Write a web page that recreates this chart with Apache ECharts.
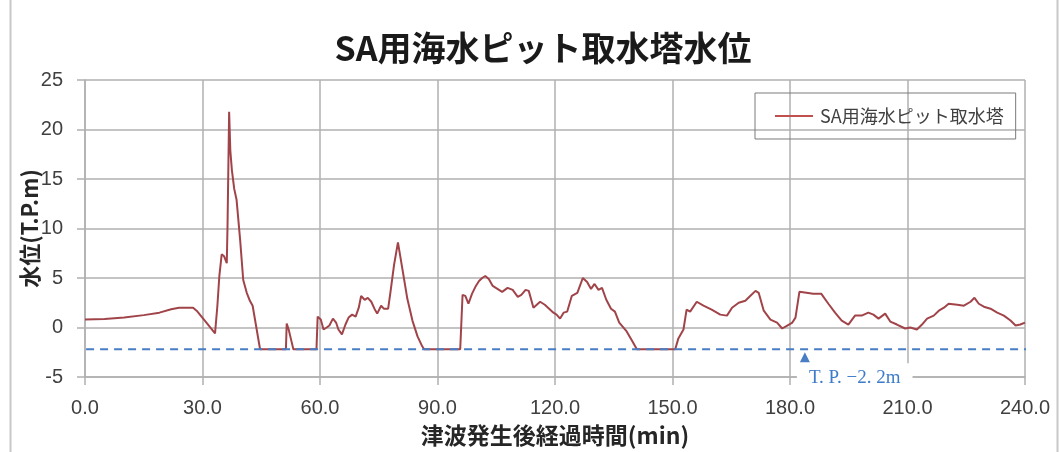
<!DOCTYPE html>
<html><head><meta charset="utf-8">
<script src="https://cdn.jsdelivr.net/npm/echarts@6/dist/echarts.min.js"></script>
<style>html,body{margin:0;padding:0;background:#fff}#c{width:1059px;height:452px}</style>
</head><body><div id="c"></div>
<script>
const titleText = 'SA用海水ピット取水塔水位';
const seriesName = 'SA用海水ピット取水塔';
const xName = '津波発生後経過時間(min)';
const yName = '水位(T.P.m)';
const xTicks = [0, 30, 60, 90, 120, 150, 180, 210, 240];
const yTicks = [-5, 0, 5, 10, 15, 20, 25];

const times = [
  0,5,10,15,19,22,24,27.6,28.5,31,33.2,33.8,34.3,34.9,35.5,36.2,36.4,36.8,37.1,37.5,38.1,38.7,39.6,40.4,41.3,42.1,42.8,44.7,51.3,51.5,52,52.6,53.2,
  59.1,59.4,60.2,60.9,61.7,62.4,63.3,64.1,64.7,65.6,66.5,67.3,68.2,69.1,69.9,70.5,71.4,72.2,73.1,73.9,74.6,75.6,76.3,77.4,78,78.9,79.9,81,82.3,83.6,84.9,86.1,86.6,
  95.8,96.4,97.1,97.9,98.8,99.8,100.6,101.4,102.2,103.1,104.1,105.3,106.5,107.9,109.2,110.5,111.4,112.5,113.3,114.5,116.2,117.4,118.5,119.6,120.4,121.3,122.2,123.1,124.3,125.7,127.1,128.2,129.2,130.1,131.1,132,133.1,134.3,135.3,136.4,138.3,139.6,140.9,150.7,
  151.5,152.8,153.6,154.5,156.2,157.9,160,162.2,163.9,165.2,166.9,168.6,169.9,171.2,172,173.3,175,176.7,178,179.3,180.6,181.4,182.4,184.2,185.9,188,189.8,191.5,193.2,194.9,196.6,198.3,200,201.3,202.6,204.3,205.6,207.3,209.4,210.7,212.4,213.7,215,216.7,218,219.3,220.5,222.7,224.4,226.1,227.1,228.2,229.5,231.2,232.9,234.6,236.3,237.6,238.8,240
];
const levels = [
  0.8,0.85,1.0,1.25,1.5,1.85,2.0,2.0,1.7,0.5,-0.6,2.2,5.2,7.4,7.2,6.5,10.5,21.8,17.9,15.9,14.0,12.9,8.9,4.8,3.5,2.7,2.2,-2.2,-2.2,0.4,-0.2,-1.2,-2.2,
  -2.2,1.1,0.8,-0.2,0,0.2,0.9,0.5,-0.2,-0.7,0.3,1.0,1.3,1.1,2.0,3.2,2.8,3.0,2.6,1.9,1.4,2.2,1.9,1.9,3.6,6.3,8.6,6.0,2.9,0.7,-0.9,-1.9,-2.2,
  -2.2,3.3,3.2,2.4,3.4,4.2,4.7,5.0,5.2,4.9,4.2,3.9,3.6,4.0,3.8,3.1,3.3,3.8,3.7,2.0,2.6,2.3,1.9,1.5,1.3,0.9,1.5,1.6,3.2,3.5,5.0,4.6,3.9,4.4,3.8,4.0,2.8,1.9,1.6,0.5,-0.4,-1.3,-2.2,-2.2,
  -1.1,-0.2,1.8,1.6,2.6,2.2,1.8,1.3,1.2,2.0,2.5,2.7,3.2,3.7,3.5,1.7,0.8,0.5,-0.1,0.2,0.5,1.0,3.6,3.5,3.4,3.4,2.4,1.5,0.7,0.3,1.2,1.2,1.5,1.3,0.9,1.4,0.6,0.3,-0.1,0,-0.2,0.3,0.9,1.2,1.7,2.0,2.4,2.3,2.2,2.6,3.0,2.4,2.1,1.9,1.5,1.2,0.7,0.2,0.3,0.5
];

const refLevel = -2.2;
const refSpan = [-3.3, 241.8];
const refMarkTime = 183.8;
const refLabel = 'T. P. \u22122. 2m';

const chart = echarts.init(document.getElementById('c'));
const cjk = '"Noto Sans CJK JP", "Noto Sans", sans-serif';
const num = '"Liberation Sans", "Noto Sans", sans-serif';
const gridColor = '#b0b0b0';
chart.setOption({
  animation: false,
  backgroundColor: '#fff',
  title: {
    text: titleText, left: 538, top: 26, textAlign: 'center',
    textStyle: { fontFamily: cjk, fontSize: 34, fontWeight: 'bold', color: '#1a1a1a' }
  },
  legend: {
    data: [{ name: seriesName, icon: 'rect' }], left: 755, top: 93,
    padding: [14, 12, 14, 20], borderColor: '#7a7a7a', borderWidth: 1,
    itemWidth: 38, itemHeight: 2,
    textStyle: { fontFamily: cjk, fontSize: 18, color: '#404040', padding: [0, 0, 0, 2] }
  },
  grid: { left: 85, right: 34, top: 80, bottom: 74 },
  xAxis: {
    type: 'value', min: xTicks[0], max: xTicks[xTicks.length - 1], interval: 30,
    name: xName, nameLocation: 'middle', nameGap: 47,
    nameTextStyle: { fontFamily: cjk, fontSize: 23, fontWeight: 'bold', color: '#262626' },
    axisLine: { show: true, onZero: false, lineStyle: { color: gridColor, width: 1.5 } },
    axisTick: { show: true, length: 8, lineStyle: { color: gridColor, width: 1.5 } },
    splitLine: { show: true, lineStyle: { color: gridColor, width: 1.5 } },
    axisLabel: { formatter: v => v.toFixed(1), margin: 21, fontSize: 20, color: '#404040', fontFamily: num }
  },
  yAxis: {
    type: 'value', min: yTicks[0], max: yTicks[yTicks.length - 1], interval: 5,
    name: yName, nameLocation: 'middle', nameGap: 44, nameRotate: 90, nameMoveOverlap: false,
    nameTextStyle: { fontFamily: cjk, fontSize: 22, fontWeight: 'bold', color: '#262626' },
    axisLine: { show: true, onZero: false, lineStyle: { color: gridColor, width: 1.5 } },
    axisTick: { show: true, length: 8, lineStyle: { color: gridColor, width: 1.5 } },
    splitLine: { show: true, lineStyle: { color: gridColor, width: 1.5 } },
    axisLabel: { margin: 22, fontSize: 20, color: '#404040', fontFamily: num }
  },
  graphic: [{
    type: 'rect', left: 8, top: -5, shape: { width: 1047, height: 470 },
    style: { fill: 'none', stroke: '#c8c8c8', lineWidth: 2 }, silent: true, z: -1
  }],
  series: [
    {
      name: seriesName, type: 'line', symbol: 'none', z: 3,
      data: times.map((t, i) => [t, levels[i]]),
      lineStyle: { color: '#a0444a', width: 2 },
      itemStyle: { color: '#c0504d' }
    },
    {
      name: 'ref', type: 'line', symbol: 'none', clip: false, z: 4,
      data: refSpan.map(t => [t, refLevel]),
      lineStyle: { color: '#4a7ec4', width: 2, type: [8, 6] },
      markPoint: {
        symbol: 'triangle', symbolSize: 10, symbolOffset: [0, 8],
        data: [{ coord: [refMarkTime, refLevel] }],
        itemStyle: { color: '#4a7ec4' },
        label: {
          show: true, formatter: refLabel, position: [-3, 11], align: 'left', verticalAlign: 'top',
          backgroundColor: '#fff', padding: [5, 12, 5, 12],
          fontFamily: '"Liberation Serif", "DejaVu Serif", serif', fontSize: 19, color: '#3d7cc9'
        }
      }
    }
  ]
});
</script></body></html>
